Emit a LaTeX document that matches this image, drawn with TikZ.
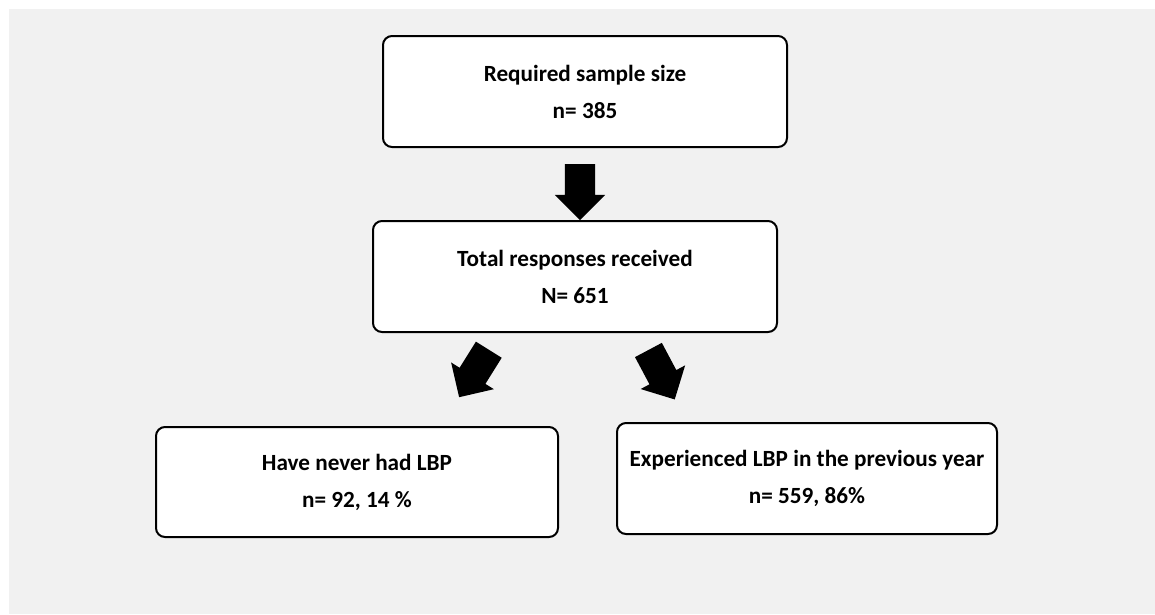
\documentclass[tikz,border=0pt]{standalone}
\usepackage{fontspec}
\setmainfont{Carlito}
\usetikzlibrary{shapes.arrows}
\definecolor{panelgray}{HTML}{F1F1F1}

\begin{document}
\begin{tikzpicture}[x=1pt,y=-1pt,
  box/.style={draw,line width=2pt,rounded corners=9pt,fill=white,
    minimum height=111pt,align=center,font=\bfseries\fontsize{23.2}{37}\selectfont},
  blockarrow/.style={single arrow,fill=black,inner sep=15pt,
    minimum height=56pt,single arrow head extend=10pt}]

\useasboundingbox (0,0) rectangle (1155,614);
\fill[panelgray] (9,9) rectangle (1155,614);

\node[box,minimum width=404pt] (req) at (585,91.5) {Required sample size\\n= 385};
\node[box,minimum width=404pt] (total) at (575,276.5) {Total responses received\\N= 651};
\node[box,minimum width=402pt,minimum height=110pt] (never) at (357,482) {Have never had LBP\\n= 92, 14 \%};
\node[box,minimum width=380pt] (prev) at (807,478.5) {Experienced LBP in the previous year\\n= 559, 86\%};

\node[blockarrow,rotate=270] (down) at (580,184.5) {};
\node[blockarrow,rotate=238] (left) at (478,367) {};
\node[blockarrow,rotate=298] (right) at (658,368) {};
\end{tikzpicture}
\end{document}
